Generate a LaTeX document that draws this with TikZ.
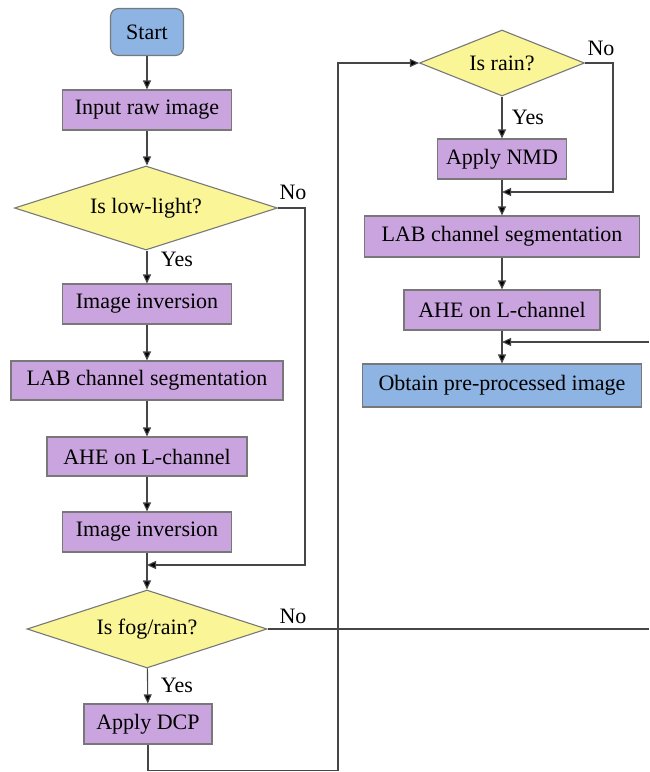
\documentclass[tikz,border=0pt]{standalone}
\usepackage{fontspec}
\setmainfont{Liberation Serif}
\newfontfamily\figfont{Liberation Serif}
\usetikzlibrary{shapes.geometric,arrows.meta}
\definecolor{boxpurple}{RGB}{202,164,222}
\definecolor{boxblue}{RGB}{141,180,226}
\definecolor{boxyellow}{RGB}{250,246,152}
\definecolor{edgegray}{RGB}{120,120,120}
\definecolor{linegray}{RGB}{70,70,70}
\tikzset{
  basefont/.style={font=\figfont\fontsize{22pt}{26pt}\selectfont},
  procbox/.style={basefont, rectangle, draw=edgegray, line width=1.1pt, fill=boxpurple, inner sep=0pt},
  bluebox/.style={basefont, rectangle, draw=edgegray, line width=1.1pt, fill=boxblue, inner sep=0pt},
  startbox/.style={basefont, rectangle, rounded corners=8pt, draw=edgegray, line width=1.1pt, fill=boxblue, inner sep=0pt},
  decision/.style={basefont, diamond, aspect=3, draw=edgegray, line width=1.1pt, fill=boxyellow, inner sep=0pt},
  conn/.style={draw=linegray, line width=1.1pt},
  arr/.style={conn, -{Triangle[length=9pt,width=8pt,fill=black]}},
  lbl/.style={basefont, inner sep=0pt}
}
\begin{document}
\begin{tikzpicture}[x=1pt, y=-1pt]
\useasboundingbox (0,0) rectangle (649,772);
% left column
\node[startbox, minimum width=73pt, minimum height=47pt] (start) at (147,32) {Start};
\node[procbox, minimum width=169pt, minimum height=40pt] (input) at (147,110) {Input raw image};
\node[decision, minimum width=263pt, minimum height=84pt] (d1) at (146,208) {Is low-light?};
\node[procbox, minimum width=169pt, minimum height=40pt] (inv1) at (147,304) {Image inversion};
\node[procbox, minimum width=272pt, minimum height=39pt] (lab1) at (147,380.5) {LAB channel segmentation};
\node[procbox, minimum width=200pt, minimum height=39pt] (ahe1) at (147,456.5) {AHE on L-channel};
\node[procbox, minimum width=169pt, minimum height=40pt] (inv2) at (147,532) {Image inversion};
\node[decision, minimum width=240pt, minimum height=78pt] (d2) at (147,629) {Is fog/rain?};
\node[procbox, minimum width=128pt, minimum height=40pt] (dcp) at (148,724) {Apply DCP};
% right column
\node[decision, aspect=2.5, minimum width=165pt, minimum height=66pt] (d3) at (502,63) {Is rain?};
\node[procbox, minimum width=129pt, minimum height=40pt] (nmd) at (502,159) {Apply NMD};
\node[procbox, minimum width=275pt, minimum height=41pt] (lab2) at (502,236.5) {LAB channel segmentation};
\node[procbox, minimum width=196pt, minimum height=40pt] (ahe2) at (502,310) {AHE on L-channel};
\node[bluebox, minimum width=279pt, minimum height=43pt] (obtain) at (502,385.5) {Obtain pre-processed image};
% labels
\node[lbl] (no1) at (293,192) {No};
\node[lbl] (yes1) at (177,259) {Yes};
\node[lbl] (no2) at (293,616) {No};
\node[lbl] (yes2) at (177,685) {Yes};
\node[lbl] (no3) at (601,48) {No};
\node[lbl] (yes3) at (528,117) {Yes};
% junction coordinates
\coordinate (j1) at (147,565);
\coordinate (j2) at (502,342);
\coordinate (j3) at (502,192);
\coordinate (edgeA) at (649,629);
\coordinate (edgeB) at (649,342);
% connectors
\draw[arr] (start) -- (input);
\draw[arr] (input) -- (input.south |- d1.north);
\draw[arr] (d1.south -| inv1) -- (inv1);
\draw[arr] (inv1) -- (lab1);
\draw[arr] (lab1) -- (ahe1);
\draw[arr] (ahe1) -- (inv2);
\draw[arr] (inv2) -- (d2);
\draw[arr] (d1.east) -- (305,208) -- (305,565) -- (j1);
\draw[arr] (d2) -- (dcp);
\draw[conn] (d2.east) -- (edgeA);
\draw[arr] (dcp.south) -- (148,770.5) -- (338,770.5) -- (338,63) -- (d3.west);
\draw[arr] (d3) -- (nmd);
\draw[arr] (d3.east) -- (613,63) -- (613,192) -- (j3);
\draw[arr] (nmd) -- (lab2);
\draw[arr] (lab2) -- (ahe2);
\draw[arr] (ahe2) -- (obtain);
\draw[arr] (edgeB) -- (j2);
\end{tikzpicture}
\end{document}
